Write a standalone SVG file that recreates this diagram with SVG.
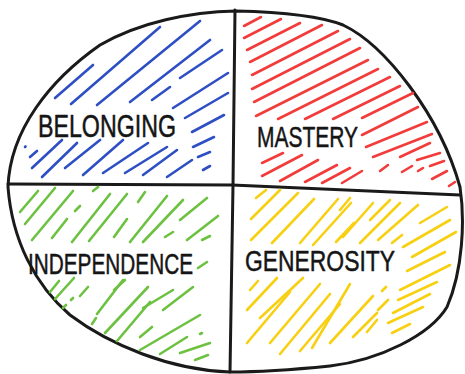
<svg xmlns="http://www.w3.org/2000/svg" width="465" height="374" viewBox="0 0 465 374">
<style>
.o{fill:none;stroke:#1a1a1a;stroke-width:3;stroke-linecap:round;stroke-linejoin:round}
.h line{stroke-width:2.6;stroke-linecap:round}
.b line{stroke:#2e4fc4}
.r line{stroke:#f23c3c}
.g line{stroke:#6cc240}
.y line{stroke:#f8d012}
.t{font-family:"Liberation Sans",Arial,sans-serif;fill:#151515;stroke:#151515;stroke-width:0.5;stroke-linejoin:round}
</style>
<rect width="465" height="374" fill="#fff"/>
<g id="connectors">
<path class="o" d="M236,11 C280,12 320,16 343,25 C385,45 440,115 460,187 C465,220 463,270 447,307 C430,335 380,360 330,366 C290,370 255,372 230,372 C170,370 110,345 70,315 C35,285 12,240 8,187 C10,130 50,80 100,45 C140,22 190,12 236,11 Z"/>
<path class="o" d="M235,10 L233,185 L230,372"/>
<path class="o" d="M8,184 L232,185 L460,195"/>
</g>
<g id="belonging">
<g class="h b">
<line x1="55" y1="98" x2="93" y2="65"/>
<line x1="71" y1="104" x2="160" y2="27"/>
<line x1="97" y1="105" x2="200" y2="21"/>
<line x1="130" y1="102" x2="210" y2="40"/>
<line x1="152" y1="100" x2="170" y2="87"/>
<line x1="180" y1="78" x2="222" y2="50"/>
<line x1="173" y1="108" x2="228" y2="73"/>
<line x1="185" y1="118" x2="228" y2="93"/>
<line x1="192" y1="132" x2="224" y2="115"/>
<line x1="193" y1="147" x2="214" y2="137"/>
<line x1="198" y1="157" x2="210" y2="152"/>
<line x1="203" y1="170" x2="210" y2="166"/>
<line x1="25" y1="147" x2="25.5" y2="146.5"/>
<line x1="30" y1="157" x2="37" y2="151"/>
<line x1="32" y1="168" x2="62" y2="140"/>
<line x1="42" y1="177" x2="77" y2="143"/>
<line x1="65" y1="168" x2="100" y2="140"/>
<line x1="83" y1="175" x2="123" y2="140"/>
<line x1="103" y1="173" x2="148" y2="143"/>
<line x1="125" y1="173" x2="167" y2="147"/>
<line x1="143" y1="175" x2="177" y2="150"/>
<line x1="167" y1="177" x2="192" y2="160"/>
</g>
<text class="t" x="38" y="137" font-size="31" textLength="138" lengthAdjust="spacingAndGlyphs">BELONGING</text>
</g>
<g id="mastery">
<g class="h r">
<line x1="244" y1="26" x2="261" y2="17"/>
<line x1="244" y1="38" x2="281" y2="19"/>
<line x1="247" y1="50" x2="300" y2="23"/>
<line x1="250" y1="62" x2="322" y2="25"/>
<line x1="252" y1="75" x2="338" y2="31"/>
<line x1="252" y1="89" x2="350" y2="39"/>
<line x1="254" y1="102" x2="360" y2="48"/>
<line x1="256" y1="116" x2="368" y2="60"/>
<line x1="278" y1="119" x2="378" y2="69"/>
<line x1="305" y1="119" x2="390" y2="77"/>
<line x1="333" y1="119" x2="400" y2="86"/>
<line x1="362" y1="118" x2="413" y2="93"/>
<line x1="362" y1="135" x2="418" y2="107"/>
<line x1="366" y1="147" x2="427" y2="122"/>
<line x1="373" y1="157" x2="432" y2="134"/>
<line x1="400" y1="157" x2="430" y2="143"/>
<line x1="417" y1="160" x2="440" y2="153"/>
<line x1="430" y1="166" x2="444" y2="161"/>
<line x1="262" y1="163" x2="283" y2="153"/>
<line x1="262" y1="176" x2="302" y2="155"/>
<line x1="280" y1="181" x2="318" y2="160"/>
<line x1="305" y1="182" x2="337" y2="165"/>
<line x1="322" y1="183" x2="350" y2="168"/>
<line x1="342" y1="183" x2="362" y2="171"/>
<line x1="380" y1="171" x2="388" y2="165"/>
<line x1="402" y1="172" x2="412" y2="166"/>
<line x1="418" y1="171" x2="423" y2="168"/>
<line x1="432" y1="179" x2="447" y2="171"/>
<line x1="449" y1="186" x2="455" y2="182"/>
</g>
<text class="t" x="257" y="147" font-size="30" textLength="101" lengthAdjust="spacingAndGlyphs">MASTERY</text>
</g>
<g id="independence">
<g class="h g">
<line x1="20" y1="212" x2="38" y2="191"/>
<line x1="25" y1="224" x2="55" y2="188"/>
<line x1="32" y1="240" x2="73" y2="191"/>
<line x1="52" y1="238" x2="67" y2="219"/>
<line x1="75" y1="211" x2="80" y2="206"/>
<line x1="72" y1="242" x2="110" y2="194"/>
<line x1="89" y1="241" x2="127" y2="194"/>
<line x1="93" y1="191" x2="98" y2="187"/>
<line x1="114" y1="237" x2="127" y2="219"/>
<line x1="138" y1="202" x2="145" y2="192"/>
<line x1="130" y1="242" x2="167" y2="196"/>
<line x1="143" y1="242" x2="183" y2="200"/>
<line x1="165" y1="237" x2="173" y2="232"/>
<line x1="180" y1="220" x2="207" y2="198"/>
<line x1="187" y1="240" x2="218" y2="216"/>
<line x1="202" y1="240" x2="210" y2="236"/>
<line x1="198" y1="268" x2="207" y2="262"/>
<line x1="50" y1="292" x2="59" y2="281"/>
<line x1="55" y1="299" x2="74" y2="278"/>
<line x1="63" y1="308" x2="66" y2="305"/>
<line x1="71" y1="300" x2="73" y2="298"/>
<line x1="80" y1="296" x2="88" y2="287"/>
<line x1="92" y1="324" x2="96" y2="318"/>
<line x1="97" y1="314" x2="123" y2="280"/>
<line x1="105" y1="333" x2="148" y2="287"/>
<line x1="117" y1="341" x2="150" y2="302"/>
<line x1="114" y1="290" x2="125" y2="280"/>
<line x1="140" y1="337" x2="152" y2="327"/>
<line x1="143" y1="308" x2="173" y2="290"/>
<line x1="140" y1="350" x2="200" y2="315"/>
<line x1="160" y1="354" x2="187" y2="337"/>
<line x1="163" y1="310" x2="193" y2="287"/>
<line x1="180" y1="353" x2="210" y2="343"/>
<line x1="200" y1="334" x2="202" y2="333"/>
<line x1="195" y1="360" x2="208" y2="355"/>
</g>
<text class="t" x="28" y="274" font-size="29" textLength="165" lengthAdjust="spacingAndGlyphs">INDEPENDENCE</text>
</g>
<g id="generosity">
<g class="h y">
<line x1="256" y1="198" x2="266" y2="190"/>
<line x1="251" y1="219" x2="280" y2="190"/>
<line x1="251" y1="240" x2="298" y2="193"/>
<line x1="272" y1="243" x2="314" y2="199"/>
<line x1="300" y1="243" x2="338" y2="199"/>
<line x1="313" y1="245" x2="351" y2="203"/>
<line x1="336" y1="242" x2="354" y2="223"/>
<line x1="340" y1="210" x2="350" y2="198"/>
<line x1="343" y1="237" x2="373" y2="203"/>
<line x1="360" y1="243" x2="400" y2="203"/>
<line x1="370" y1="220" x2="390" y2="200"/>
<line x1="378" y1="240" x2="418" y2="205"/>
<line x1="392" y1="243" x2="402" y2="235"/>
<line x1="420" y1="223" x2="447" y2="207"/>
<line x1="403" y1="247" x2="450" y2="220"/>
<line x1="412" y1="257" x2="456" y2="232"/>
<line x1="407" y1="271" x2="445" y2="252"/>
<line x1="400" y1="290" x2="450" y2="265"/>
<line x1="398" y1="300" x2="437" y2="282"/>
<line x1="393" y1="313" x2="430" y2="294"/>
<line x1="388" y1="323" x2="423" y2="307"/>
<line x1="392" y1="333" x2="410" y2="324"/>
<line x1="250" y1="290" x2="258" y2="281"/>
<line x1="247" y1="310" x2="277" y2="278"/>
<line x1="247" y1="343" x2="290" y2="292"/>
<line x1="260" y1="318" x2="303" y2="278"/>
<line x1="270" y1="343" x2="320" y2="284"/>
<line x1="280" y1="354" x2="330" y2="294"/>
<line x1="300" y1="351" x2="340" y2="304"/>
<line x1="312" y1="348" x2="350" y2="284"/>
<line x1="330" y1="343" x2="373" y2="296"/>
<line x1="353" y1="337" x2="377" y2="313"/>
<line x1="367" y1="332" x2="377" y2="320"/>
<line x1="378" y1="310" x2="388" y2="300"/>
<line x1="382" y1="291" x2="386" y2="287"/>
</g>
<text class="t" x="245" y="271" font-size="30" textLength="150" lengthAdjust="spacingAndGlyphs">GENEROSITY</text>
</g>
</svg>
